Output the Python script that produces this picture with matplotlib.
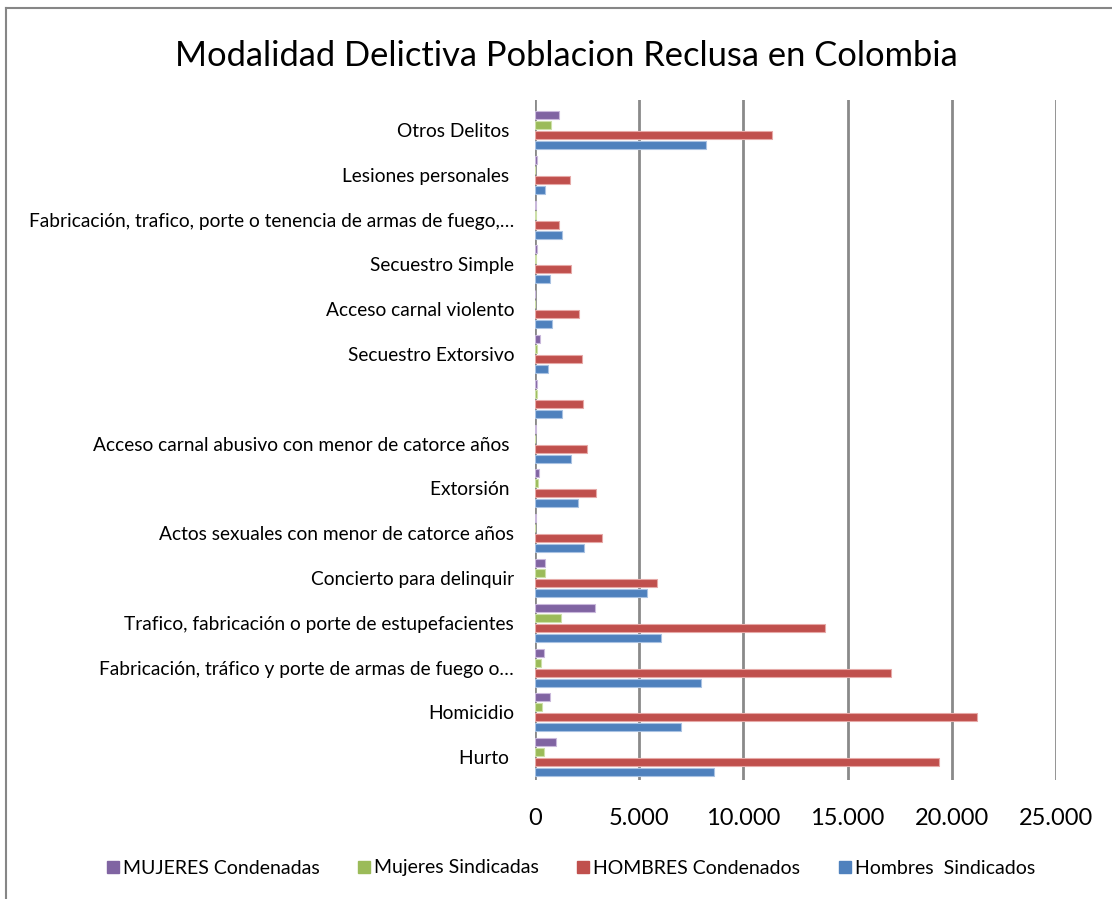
import matplotlib
matplotlib.use("Agg")
import matplotlib.pyplot as plt
import numpy as np
from matplotlib.lines import Line2D

plt.rcParams['font.family'] = ['Lato', 'DejaVu Sans']

categories = [
    "Hurto ",
    "Homicidio",
    "Fabricación, tráfico y porte de armas de fuego o…",
    "Trafico, fabricación o porte de estupefacientes",
    "Concierto para delinquir",
    "Actos sexuales con menor de catorce años",
    "Extorsión ",
    "Acceso carnal abusivo con menor de catorce años ",
    "",
    "Secuestro Extorsivo",
    "Acceso carnal violento",
    "Secuestro Simple",
    "Fabricación, trafico, porte o tenencia de armas de fuego,…",
    "Lesiones personales ",
    "Otros Delitos ",
]

hombres_sindicados = [8590, 7010, 7950, 6050, 5365, 2330, 2045, 1710, 1295, 620, 835, 705, 1310, 480, 8190]
hombres_condenados = [19380, 21200, 17070, 13920, 5845, 3210, 2920, 2510, 2300, 2235, 2125, 1725, 1170, 1660, 11350]
mujeres_sindicadas = [450, 335, 290, 1245, 500, 15, 160, 15, 80, 80, 0, 30, 40, 0, 765]
mujeres_condenadas = [1005, 735, 430, 2860, 465, 25, 190, 25, 115, 225, 0, 100, 40, 100, 1170]

series_names = ["MUJERES Condenadas", "Mujeres Sindicadas", "HOMBRES Condenados", "Hombres  Sindicados"]
series_colors = ["#8064A2", "#9BBB59", "#C0504D", "#4F81BD"]
edge_colors = ["#C9B8DB", "#CDE0A8", "#E6A9A7", "#A9C2E2"]

xticks = [0, 5000, 10000, 15000, 20000, 25000]
xtick_labels = ["0", "5.000", "10.000", "15.000", "20.000", "25.000"]

fig = plt.figure(figsize=(11.12, 8.99), dpi=100)
ax = fig.add_axes([535/1112, 1 - 780/899, (1056 - 535)/1112, (780 - 100)/899])

y = np.arange(len(categories))
h = 0.18
offs = [0.335, 0.112, -0.112, -0.335]
data = [mujeres_condenadas, mujeres_sindicadas, hombres_condenados, hombres_sindicados]
for vals, off, col, ec, name in zip(data, offs, series_colors, edge_colors, series_names):
    ax.barh(y + off, vals, height=h, color=col, edgecolor=ec, linewidth=0.8, label=name, zorder=3)

ax.set_xlim(0, 25000)
ax.set_ylim(-0.51, 14.67)
ax.set_xticks(xticks)
ax.set_xticklabels(xtick_labels, fontsize=17)
ax.set_yticks(y)
ax.set_yticklabels(categories, fontsize=13.8)
ax.tick_params(axis='both', length=0)
ax.tick_params(axis='x', pad=20)
ax.tick_params(axis='y', pad=15)
for s in ax.spines.values():
    s.set_visible(False)
ax.grid(axis='x', color='#8A8A8A', linewidth=2.0, zorder=0)
ax.set_axisbelow(True)

fig.text(566/1112, 1 - 56/899, "Modalidad Delictiva Poblacion Reclusa en Colombia",
         ha='center', va='center', fontsize=24.8)

handles = [Line2D([0], [0], marker='s', linestyle='none', markersize=8,
                  markerfacecolor=c, markeredgecolor=c) for c in series_colors]
fig.legend(handles, series_names, loc='center', bbox_to_anchor=(570/1112, 1 - 868/899),
           ncol=4, frameon=False, fontsize=14, handletextpad=0.1, columnspacing=1.9,
           handlelength=0.8)

# outer chart frame (left and top edges visible)
fig.add_artist(Line2D([6/1112, 6/1112], [0, 1 - 8/899], transform=fig.transFigure,
                      color='#868686', linewidth=1.5))
fig.add_artist(Line2D([6/1112, 1], [1 - 8/899, 1 - 8/899], transform=fig.transFigure,
                      color='#868686', linewidth=1.5))

fig.savefig("out.png", dpi=100, facecolor='white')
